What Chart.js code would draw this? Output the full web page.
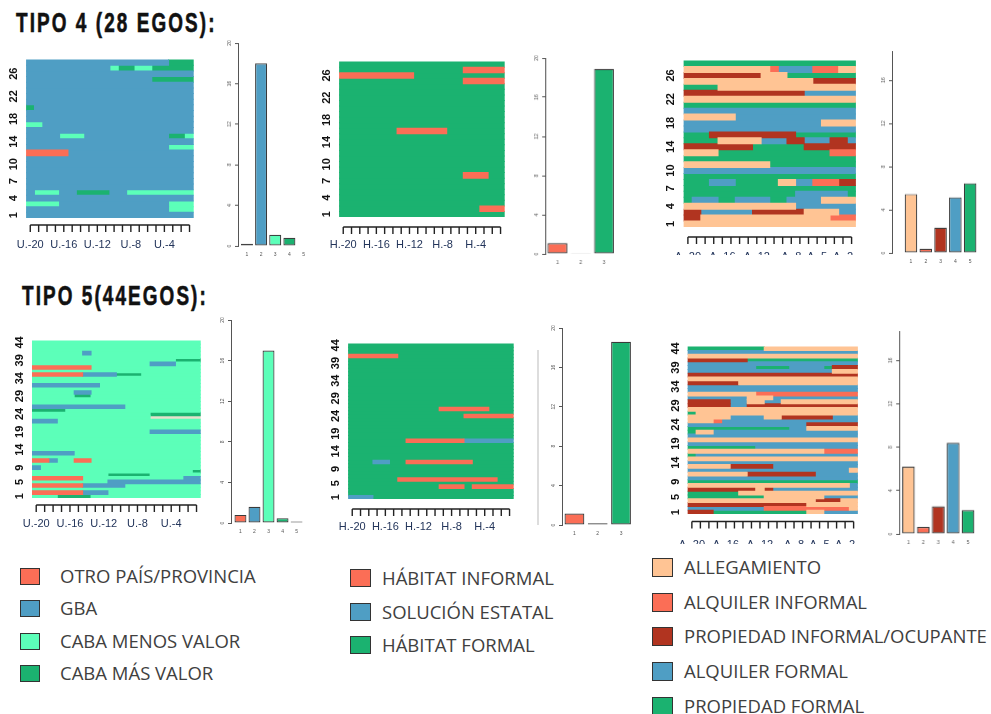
<!DOCTYPE html>
<html>
<head>
<meta charset="utf-8">
<script src="https://cdn.jsdelivr.net/npm/chart.js@4/dist/chart.umd.min.js"></script>
<style>
  body { margin: 0; background: #fff; width: 991px; height: 714px; position: relative; overflow: hidden; font-family: "Open Sans", sans-serif; }
  .box { position: absolute; overflow: hidden; }
  .box canvas { position: absolute; left: 0; top: 0; }
  .titulo { position: absolute; font-family: "Liberation Sans", Arial, sans-serif; font-weight: bold; font-size: 27px; line-height: 26px; letter-spacing: 3px; color: #111; white-space: nowrap; transform: scaleX(0.7); transform-origin: 0 0; -webkit-text-stroke: 0.6px #111; }
  .ley { position: absolute; font-size: 18.5px; line-height: 20px; height: 20px; color: #404040; white-space: nowrap; }
  .cuadro { position: absolute; box-sizing: border-box; border: 1.5px solid #333; }
</style>
</head>
<body>
<div class="titulo" style="left:16px;top:10px">TIPO 4 (28 EGOS):</div>
<div class="titulo" style="left:22px;top:283px">TIPO 5(44EGOS):</div>
<div style="position:absolute;left:537px;top:350px;width:1.5px;height:175px;background:#ddd"></div>
<script>
// ---- data -------------------------------------------------------------
// one string per ego (row 1 first), one character per period (20 periods)
const tipo4Lugar = [
  "22222222222222222222", "22222222222222222333", "33332222222222222333", "22222222222222222222",
  "23332244442233333333", "22222222222222222222", "22222222222222222222", "22222222222222222222",
  "22222222222222222222", "22222222222222222222", "22222222222222222222", "11111222222222222222",
  "22222222222222222333", "22222222222222222222", "22223332222222222443", "22222222222222222222",
  "33222222222222222222", "22222222222222222222", "22222222222222222222", "42222222222222222222",
  "22222222222222222222", "22222222222222222222", "22222222222222222222", "22222222222222222222",
  "22222222222222244444", "22222222222222222222", "22222222223443344444", "22222222222222222444"
];
const tipo4Habitat = [
  "33333333333333333333", "33333333333333333111", "33333333333333333333", "33333333333333333333",
  "33333333333333333333", "33333333333333333333", "33333333333333333333", "33333333333333311133",
  "33333333333333333333", "33333333333333333333", "33333333333333333333", "33333333333333333333",
  "33333333333333333333", "33333333333333333333", "33333333333333333333", "33333331111113333333",
  "33333333333333333333", "33333333333333333333", "33333333333333333333", "33333333333333333333",
  "33333333333333333333", "33333333333333333333", "33333333333333333333", "33333333333333333333",
  "33333333333333311111", "11111111133333333333", "33333333333333311111", "33333333333333333333"
];
const tipo4Tenencia = [
  "11111111111111111111", "33111111111111111222", "33444444333333111144", "11111111111114444444",
  "54445544445544441111", "55555555555554444445", "55555555555555555555", "55544455555114422233",
  "55555555555555555555", "44444444444444444444", "11111111115555555555", "55555555555555555555",
  "11115555555555555222", "33333333555555333333", "55551111144433444334", "55533333333335555555",
  "44444444444444444444", "44444444444444441111", "11111144444444444444", "44444444444444444444",
  "55555555555555555555", "11111111111111111111", "33333333333333444444", "55551111111111111111",
  "11111111111111133333", "33333333311155555555", "11111111112444422211", "55555555555555555555"
];
const tipo5Lugar = [
  "33344443333333333333", "11111122233333333333", "33333333333333333333", "11111122222333333333",
  "33333333322222222222", "11111133333333333322", "33333333344444333333", "33333333333333333334",
  "23333333333333333333", "33333333333333333333", "11233113333333333333", "33333333333333333333",
  "22222333333333333333", "33333333333333333333", "33333333333333333333", "33333333333333333333",
  "33333333333333333333", "33333333333333333333", "33333333333333222222", "33333333333333333333",
  "33333333333333333333", "22233333333333333333", "33333333333333555555", "33333333333333444444",
  "44443333333333333333", "22222222222333333333", "33333333333333333333", "33333333333333333333",
  "33333443333333333333", "33333223333333333333", "33333333333333333333", "22222222333333333333",
  "33333333333333333333", "33333333333333333333", "11111122224443333333", "33333333333333333333",
  "11111113333333333333", "33333333333333222333", "33333333333333333444", "33333333333333333333",
  "33333323333333333333", "33333333333333333333", "33333333333333333333", "33333333333333333333"
];
const tipo5Habitat = [
  "22233333333333333333", "33333333333333333333", "33333333333333333333", "33333333333111311111",
  "33333333333333333333", "33333311111111111133", "33333333333333333333", "33333333333333333333",
  "33333333333333333333", "33333333333333333333", "33322331111111133333", "33333333333333333333",
  "33333333333333333333", "33333333333333333333", "33333333333333333333", "33333333333333333333",
  "33333331111111222222", "33333333333333333333", "33333333333333333333", "33333333333333333333",
  "33333333333333333333", "33333333333333333333", "33333333333333333333", "33333333333333111111",
  "33333333333333333333", "33333333333111111333", "33333333333333333333", "33333333333333333333",
  "33333333333333333333", "33333333333333333333", "33333333333333333333", "33333333333333333333",
  "33333333333333333333", "33333333333333333333", "33333333333333333333", "33333333333333333333",
  "33333333333333333333", "33333333333333333333", "33333333333333333333", "33333333333333333333",
  "11111133333333333333", "33333333333333333333", "33333333333333333333", "33333333333333333333"
];
const tipo5Tenencia = [
  "33355555555555114444", "44444444422222222221", "33333333333333111111", "11111111111111133311",
  "55555555511111114444", "55555511111111111111", "33333333134444444444", "11111111111111111114",
  "55555555555555555555", "44444444444444444444", "11111113333333344444", "44444444444444444441",
  "11111333334444444444", "44444444444444444444", "11111111111111111111", "54444444444444444444",
  "11111111111111112222", "55555555444444444444", "44444444444444444444", "11111111111111111111",
  "44444444444444444444", "51144444444444444444", "55555555555544111111", "44444444444444333333",
  "11124444444444444444", "11111444411333333444", "51111111111111111111", "11111111111111111111",
  "33333443333333333333", "33333441144111111111", "44444441114444444444", "11111111222222222222",
  "44444444444444444444", "44444444444444444444", "33333311111111111111", "11111111111111111111",
  "33333333333333333333", "44444444444444444111", "44444444555544445333", "44444444444444444444",
  "33333335555555555555", "11111111111111111111", "44444444444444444444", "55555555511111111111"
];

// mean time spent in each state (bar charts)
const tipo4LugarMedia = [0.2, 18.0, 1.1, 0.8, 0.05];
const tipo4HabitatMedia = [1.1, 0.03, 18.9];
const tipo4TenenciaMedia = [5.45, 0.4, 2.35, 5.15, 6.45];
const tipo5LugarMedia = [0.8, 1.6, 17.0, 0.48, 0.15];
const tipo5HabitatMedia = [1.17, 0.17, 18.6];
const tipo5TenenciaMedia = [6.2, 0.65, 2.55, 8.4, 2.2];

// tick labels
const periodosU = ["U.-20", "", "", "", "U.-16", "", "", "", "U.-12", "", "", "", "U.-8", "", "", "", "U.-4", "", "", ""];
const periodosH = ["H.-20", "", "", "", "H.-16", "", "", "", "H.-12", "", "", "", "H.-8", "", "", "", "H.-4", "", "", ""];
const periodosA = ["A.-20", "", "", "", "A.-16", "", "", "", "A.-12", "", "", "", "A.-8", "", "", "A.-5", "", "", "A.-2", ""];
const filas28 = ["1", "4", "7", "10", "14", "18", "22", "26"];
const filas44 = ["1", "5", "9", "14", "19", "24", "29", "34", "39", "44"];
const marcasBarras = [0, 4, 8, 12, 16, 20];

// legends
const leyendaLugar = ["OTRO PAÍS/PROVINCIA", "GBA", "CABA MENOS VALOR", "CABA MÁS VALOR"];
const leyendaHabitat = ["HÁBITAT INFORMAL", "SOLUCIÓN ESTATAL", "HÁBITAT FORMAL"];
const leyendaTenencia = ["ALLEGAMIENTO", "ALQUILER INFORMAL", "PROPIEDAD INFORMAL/OCUPANTE", "ALQUILER FORMAL", "PROPIEDAD FORMAL"];

// colours
const coloresLugar = ["#FB6E56", "#4F9EC4", "#5CFFB9", "#1BB270", "#E6E1CC"];
const coloresHabitat = ["#FB6E56", "#4F9EC4", "#1BB270"];
const coloresTenencia = ["#FFC494", "#FB6E56", "#B13420", "#4F9EC4", "#1BB270"];

// ---- helpers ----------------------------------------------------------
Chart.defaults.font.family = "'Liberation Sans', Arial, sans-serif";
Chart.defaults.animation = false;

function caja(left, top, w, h, clipH) {
  const d = document.createElement("div");
  d.className = "box";
  d.style.cssText = `left:${left}px;top:${top}px;width:${w}px;height:${clipH || h}px`;
  const c = document.createElement("canvas");
  c.width = w; c.height = h;
  c.style.width = w + "px"; c.style.height = h + "px";
  d.appendChild(c);
  document.body.appendChild(d);
  return c;
}

// runs of one state -> floating bars
function tramos(filas, estado) {
  const out = [];
  filas.forEach((fila, i) => {
    let inicio = -1;
    for (let t = 0; t <= fila.length; t++) {
      const igual = fila[t] === String(estado);
      if (igual && inicio < 0) inicio = t;
      if (!igual && inicio >= 0) { out.push({ y: String(i + 1), x: [inicio, t] }); inicio = -1; }
    }
  });
  return out;
}

// R style detached axis under the sequence plot
const ejeR = (sep) => ({
  id: "ejeR",
  afterDraw(chart) {
    const { ctx, chartArea, scales } = chart;
    const x = scales.x;
    const y = chartArea.bottom + sep;
    const pos = x.ticks.map((t) => x.getPixelForValue(t.value));
    ctx.save();
    ctx.strokeStyle = "#222";
    ctx.lineWidth = 1.4;
    ctx.beginPath();
    ctx.moveTo(pos[0], y);
    ctx.lineTo(pos[pos.length - 1], y);
    pos.forEach((p) => { ctx.moveTo(p, y); ctx.lineTo(p, y + 7); });
    ctx.stroke();
    ctx.restore();
  },
});

//--------------------------------------------------------
function secuencias(plot, filas, colores, periodos, visibles, sep, padX, clipY) {
  const [x0, y0, x1, y1] = plot;
  const izq = 30, arriba = 3, derecha = 3, abajo = 48;
  const top = y0 - arriba;
  const canvas = caja(x0 - izq, top, x1 - x0 + izq + derecha, y1 - y0 + arriba + abajo, clipY ? clipY - top : null);
  const etiquetas = filas.map((_, i) => String(i + 1));
  const datasets = colores.map((col, s) => ({
    data: tramos(filas, s + 1),
    backgroundColor: col,
    borderWidth: 0,
    grouped: false,
    barPercentage: 1,
    categoryPercentage: 1,
    inflateAmount: 0.5,
  }));
  new Chart(canvas, {
    type: "bar",
    data: { labels: etiquetas, datasets },
    options: {
      indexAxis: "y",
      responsive: false,
      layout: { padding: { top: arriba, right: derecha, left: 0, bottom: 0 } },
      plugins: { legend: { display: false }, tooltip: { enabled: false } },
      scales: {
        x: {
          type: "linear", min: 0, max: periodos.length, bounds: "data",
          grid: { display: false, drawTicks: false }, border: { display: false },
          afterBuildTicks: (s) => { s.ticks = periodos.map((_, i) => ({ value: i + 0.5 })); },
          afterFit: (s) => { s.height = abajo; },
          ticks: { autoSkip: false, maxRotation: 0, padding: padX, font: { size: 11 }, color: "#22345a",
                   callback: (v, i) => periodos[i] },
        },
        y: {
          reverse: true,
          grid: { display: false, drawTicks: false }, border: { display: false },
          afterFit: (s) => { s.width = izq; },
          ticks: { autoSkip: false, minRotation: 90, maxRotation: 90, crossAlign: "center", padding: 6,
                   font: { size: 11, weight: "bold" }, color: "#111",
                   callback: (v, i) => (visibles.includes(etiquetas[i]) ? etiquetas[i] : "") },
        },
      },
    },
    plugins: [ejeR(sep)],
  });
}

//--------------------------------------------------------
function barras(plot, valores, colores, desde, maxY) {
  const [x0, y0, x1, y1] = plot;
  const izq = 16, abajo = 16, arriba = 3;
  const canvas = caja(x0 - izq, y0 - arriba, x1 - x0 + izq + 2, y1 - y0 + arriba + abajo);
  new Chart(canvas, {
    type: "bar",
    data: {
      datasets: [{
        data: valores.map((v, i) => ({ x: i + 1, y: v })),
        backgroundColor: colores,
        borderColor: "#3a3a3a",
        borderWidth: 1.2,
        borderSkipped: false,
        barPercentage: 0.85,
        categoryPercentage: 1,
      }],
    },
    options: {
      responsive: false,
      layout: { padding: { top: arriba, right: 2, left: 0, bottom: 0 } },
      plugins: { legend: { display: false }, tooltip: { enabled: false } },
      scales: {
        x: {
          type: "linear", min: desde, max: valores.length + 0.6, bounds: "data", offset: false,
          grid: { display: false, drawTicks: false }, border: { display: false },
          afterBuildTicks: (s) => { s.ticks = valores.map((_, i) => ({ value: i + 1 })); },
          afterFit: (s) => { s.height = abajo; },
          ticks: { autoSkip: false, maxRotation: 0, padding: 6, font: { size: 5 }, color: "#555" },
        },
        y: {
          min: 0, max: maxY, bounds: "data",
          afterBuildTicks: (s) => { s.ticks = marcasBarras.filter((m) => m <= maxY).map((m) => ({ value: m })); },
          afterFit: (s) => { s.width = izq; },
          grid: { drawOnChartArea: false, drawTicks: true, tickLength: 3, color: "#555" },
          border: { display: true, color: "#555", width: 1 },
          ticks: { autoSkip: false, minRotation: 90, maxRotation: 90, crossAlign: "center", padding: 3,
                   font: { size: 5 }, color: "#555" },
        },
      },
    },
  });
}

function leyenda(textos, colores, xCuadro, wCuadro, hCuadro, xTexto, centros) {
  textos.forEach((t, i) => {
    const q = document.createElement("div");
    q.className = "cuadro";
    q.style.cssText = `left:${xCuadro}px;top:${centros[i] - hCuadro / 2}px;width:${wCuadro}px;height:${hCuadro}px;background:${colores[i]}`;
    document.body.appendChild(q);
    const d = document.createElement("div");
    d.className = "ley";
    d.style.left = xTexto + "px";
    d.style.top = centros[i] - 10 + "px";
    d.textContent = t;
    document.body.appendChild(d);
  });
}

// ---- draw -------------------------------------------------------------
secuencias([26, 50, 207, 218], tipo4Lugar, coloresLugar, periodosU, filas28, 7, 20.4);
secuencias([338, 52, 519, 217], tipo4Habitat, coloresHabitat, periodosH, filas28, 10, 21.4);
secuencias([681, 51, 872, 227], tipo4Tenencia, coloresTenencia, periodosA, filas28, 10, 23.4, 255);
secuencias([32, 331, 213, 498], tipo5Lugar, coloresLugar, periodosU, filas44, 7, 19.4);
secuencias([347, 334, 528, 499], tipo5Habitat, coloresHabitat, periodosH, filas44, 10, 21.4);
secuencias([684, 337, 875, 514], tipo5Tenencia, coloresTenencia, periodosA, filas44, 7.5, 24.4, 544);

barras([238, 40, 312.3, 245.7], tipo4LugarMedia, coloresLugar, 0.366, 20);
barras([545, 55.3, 617.5, 254], tipo4HabitatMedia, coloresHabitat, 0.474, 20);
barras([892, 48, 979, 252.7], tipo4TenenciaMedia, coloresTenencia, -0.284, 18.7);
barras([230.7, 316.7, 305.1, 523.3], tipo5LugarMedia, coloresLugar, 0.326, 20);
barras([561.7, 325, 635, 525], tipo5HabitatMedia, coloresHabitat, 0.466, 20);
barras([899.3, 328.3, 977, 533.7], tipo5TenenciaMedia, coloresTenencia, 0.383, 18.7);

leyenda(leyendaLugar, coloresLugar, 20, 20, 17, 60, [576, 608, 641, 673]);
leyenda(leyendaHabitat, coloresHabitat, 350, 21, 18, 382, [578, 611.5, 644.5]);
leyenda(leyendaTenencia, coloresTenencia, 652, 21, 19, 684, [567, 602, 636, 671, 706]);
</script>
</body>
</html>
